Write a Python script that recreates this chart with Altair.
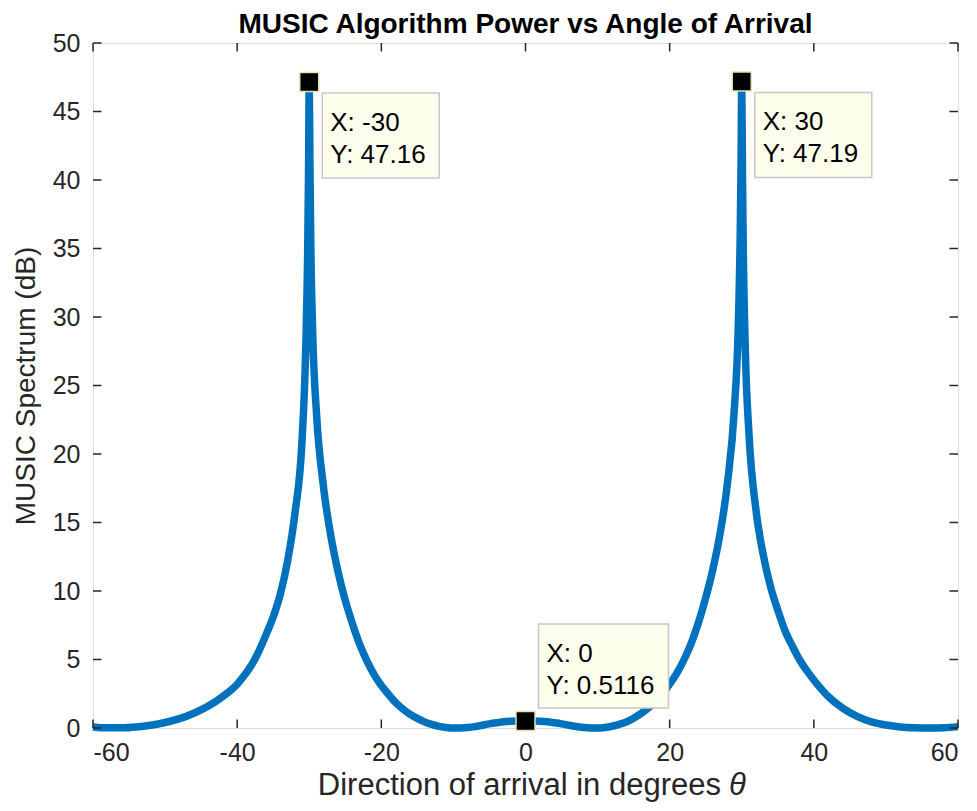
import altair as alt
import pandas as pd

# ---- data ----
angles = [-60, -58, -56, -54, -52, -50, -48, -46, -44, -42, -40, -39, -38, -37, -36, -35, -34, -33, -32, -31,
          -30.5, -30.2, -30.1, -30, -29.9, -29.8, -29.5, -29, -28, -27, -26, -25, -24, -23,
          -22, -21, -20, -19, -18, -17, -16, -15, -14, -13, -12, -11, -10, -9, -8, -7, -6, -5, -4,
          -3, -2, -1, 0, 1, 2, 3, 4, 5, 6, 7, 8, 9, 10, 11, 12, 13, 14, 15, 16, 17, 18, 19, 20, 21,
          22, 23, 24, 25, 26, 27, 28, 29, 29.5, 29.8, 29.9, 30, 30.1, 30.2, 30.5, 31, 32, 33, 34,
          35, 36, 37, 38, 39, 40, 42, 44, 46, 48, 50, 52, 54, 56, 58, 60]
power_db = [0.08, 0.01, 0.01, 0.07, 0.2, 0.4, 0.68, 1.08, 1.6, 2.3, 3.2, 3.85, 4.6, 5.6, 6.8, 8.1, 9.8, 12.2, 15.6, 21.0,
            27.5, 35.5, 40.5, 47.16, 41.0, 36.0, 28.5, 23.0, 17.5, 14.0, 11.4, 9.3, 7.6, 6.1,
            4.9, 3.9, 3.1, 2.45, 1.85, 1.38, 1.0, 0.7, 0.45, 0.26, 0.12, 0.04, 0.0, 0.0, 0.03, 0.1, 0.2, 0.3, 0.38,
            0.45, 0.49, 0.51, 0.5116, 0.51, 0.49, 0.45, 0.38, 0.3, 0.2, 0.11, 0.04, 0.0, 0.0, 0.04, 0.13, 0.27, 0.45, 0.72, 1.05, 1.45, 1.95, 2.5, 3.2, 4.0,
            5.0, 6.2, 7.7, 9.5, 11.6, 14.2, 17.8, 23.5, 29.0, 36.5, 41.0, 47.19, 40.5, 35.5, 27.5, 21.5, 15.8, 12.6, 10.3,
            8.6, 7.1, 6.0, 5.0, 4.2, 3.5, 2.3, 1.45, 0.85, 0.45, 0.22, 0.08, 0.02, 0.0, 0.02, 0.1]

tip_x = [-30, 30, 0]
tip_y = [47.16, 47.19, 0.5116]
tip_line1 = ["X: -30", "X: 30", "X: 0"]
tip_line2 = ["Y: 47.16", "Y: 47.19", "Y: 0.5116"]
tip_side = ["below", "below", "above"]

x_ticks = [-60, -40, -20, 0, 20, 40, 60]
y_ticks = [0, 5, 10, 15, 20, 25, 30, 35, 40, 45, 50]
title_text = ["MUSIC Algorithm Power vs Angle of Arrival"]
xlabel_text = ["Direction of arrival in degrees"]
xlabel_symbol = ["θ"]

W, H = 865, 685
TICK = 8.5
AX = "#262626"
FONT = "Liberation Sans"

curve = pd.DataFrame({"angle": angles, "power": power_db})
tips = pd.DataFrame({"angle": tip_x, "power": tip_y, "l1": tip_line1, "l2": tip_line2, "side": tip_side})
xt = pd.DataFrame({"t": x_ticks})
yt = pd.DataFrame({"t": y_ticks})
tt = pd.DataFrame({"title": title_text, "xl": xlabel_text, "sym": xlabel_symbol})

xscale = alt.Scale(domain=[-60, 60], nice=False, zero=False)
yscale = alt.Scale(domain=[0, 50], nice=False, zero=False)

xenc = alt.X("angle:Q", scale=xscale,
             axis=alt.Axis(values=x_ticks, title=None, domain=False,
                           ticks=False, tickSize=0, grid=False, labelFontSize=25, labelColor=AX,
                           labelExpr="'' + datum.value",
                           labelFont=FONT, labelPadding=12))
yenc = alt.Y("power:Q", scale=yscale,
             axis=alt.Axis(values=y_ticks, title="MUSIC Spectrum (dB)", domain=False,
                           ticks=False, tickSize=0, grid=False, labelFontSize=25, labelColor=AX,
                           labelExpr="'' + datum.value",
                           labelFont=FONT, labelPadding=13, titleFont=FONT, titleFontSize=28,
                           titleFontWeight="normal", titleColor=AX, titlePadding=12))

line = alt.Chart(curve).mark_line(color="#0072BD", strokeWidth=7.5, interpolate="monotone").encode(
    x=xenc, y=yenc)

tick_b = alt.Chart(xt).mark_rule(color=AX, strokeWidth=1.5).encode(
    x=alt.X("t:Q", scale=xscale), y=alt.value(H), y2=alt.value(H - TICK))
tick_t = alt.Chart(xt).mark_rule(color=AX, strokeWidth=1.5).encode(
    x=alt.X("t:Q", scale=xscale), y=alt.value(0), y2=alt.value(TICK))
tick_l = alt.Chart(yt).mark_rule(color=AX, strokeWidth=1.5).encode(
    y=alt.Y("t:Q", scale=yscale), x=alt.value(0), x2=alt.value(TICK))
tick_r = alt.Chart(yt).mark_rule(color=AX, strokeWidth=1.5).encode(
    y=alt.Y("t:Q", scale=yscale), x=alt.value(W), x2=alt.value(W - TICK))

title = alt.Chart(tt).mark_text(align="center", baseline="alphabetic", font=FONT, fontSize=28,
                                fontWeight="bold", color="black").encode(
    x=alt.value(W / 2), y=alt.value(-10), text="title:N")

xlab = alt.Chart(tt).mark_text(align="right", baseline="alphabetic", font=FONT, fontSize=31,
                               color=AX).encode(
    x=alt.value(628), y=alt.value(752), text="xl:N")
xsym = alt.Chart(tt).mark_text(align="left", baseline="alphabetic", font=FONT, fontSize=31,
                               fontStyle="italic", color=AX).encode(
    x=alt.value(636), y=alt.value(752), text="sym:N")

markers = alt.Chart(tips).mark_square(size=361, filled=True, color="black", stroke="#e2e2b4",
                                       strokeWidth=1.5, opacity=1).encode(
    x=alt.X("angle:Q", scale=xscale), y=alt.Y("power:Q", scale=yscale))

below = tips[tips.side == "below"]
above = tips[tips.side == "above"]

def box(df, xo, x2o, yo, y2o, d1, d2):
    base = alt.Chart(df)
    rect = base.mark_rect(fill="#fefeec", stroke="#c8c8c8", strokeWidth=1.5,
                          xOffset=xo, x2Offset=x2o, yOffset=yo, y2Offset=y2o).encode(
        x=alt.X("angle:Q", scale=xscale), x2="angle:Q",
        y=alt.Y("power:Q", scale=yscale), y2="power:Q")
    t1 = base.mark_text(align="left", baseline="middle", dx=21, dy=d1, font=FONT, fontSize=26,
                        color="black").encode(
        x=alt.X("angle:Q", scale=xscale), y=alt.Y("power:Q", scale=yscale), text="l1:N")
    t2 = base.mark_text(align="left", baseline="middle", dx=21, dy=d2, font=FONT, fontSize=26,
                        color="black").encode(
        x=alt.X("angle:Q", scale=xscale), y=alt.Y("power:Q", scale=yscale), text="l2:N")
    return rect + t1 + t2

boxes_below = box(below, 13, 130, 11, 96, 41, 73)
boxes_above = box(above, 13, 143, -97, -13, -67, -35)

chart = alt.layer(line, tick_b, tick_t, tick_l, tick_r, markers, boxes_below, boxes_above,
                  title, xlab, xsym).properties(
    width=W, height=H,
    autosize=alt.AutoSizeParams(type="none"),
    padding={"left": 85, "top": 35, "right": 11, "bottom": 75},
).configure_view(stroke=AX, strokeWidth=2).configure(background="white")

chart.save("out.html", embed_options={"renderer": "svg", "actions": False})
